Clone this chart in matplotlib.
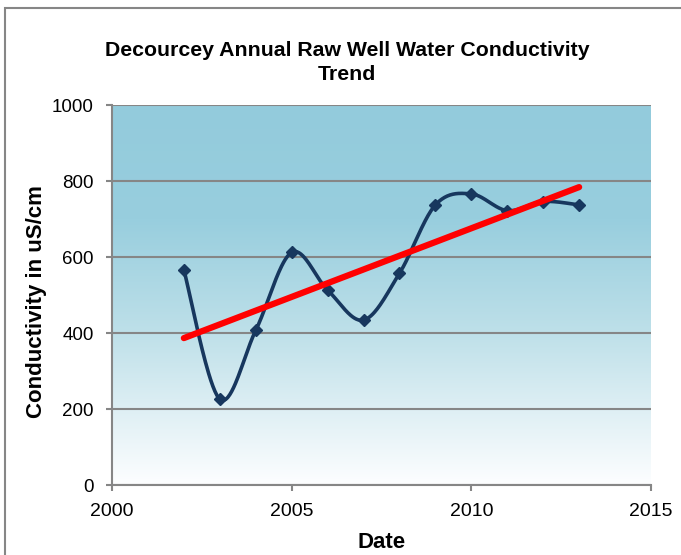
import numpy as np
import matplotlib.pyplot as plt
from matplotlib.colors import LinearSegmentedColormap
from matplotlib.patches import Rectangle

plt.rcParams['font.family'] = ['Liberation Sans', 'DejaVu Sans']

years = [2002, 2003, 2004, 2005, 2006, 2007, 2008, 2009, 2010, 2011, 2012, 2013]
conductivity = [566, 226, 407, 612, 513, 434, 557, 737, 766, 722, 746, 737]
x_ticks = [2000, 2005, 2010, 2015]
y_ticks = [0, 200, 400, 600, 800, 1000]


def excel_smooth(x, y, n=40):
    # Excel-style smoothed line: cubic Bezier with Catmull-Rom control points
    p = np.column_stack([x, y]).astype(float)
    pts = [p[0]]
    for i in range(len(p) - 1):
        p0 = p[i - 1] if i > 0 else p[i]
        p3 = p[i + 2] if i + 2 < len(p) else p[i + 1]
        c1 = p[i] + (p[i + 1] - p0) / 6
        c2 = p[i + 1] - (p3 - p[i]) / 6
        t = np.linspace(0, 1, n)[1:, None]
        seg = ((1 - t) ** 3 * p[i] + 3 * (1 - t) ** 2 * t * c1
               + 3 * (1 - t) * t ** 2 * c2 + t ** 3 * p[i + 1])
        pts.extend(seg)
    pts = np.array(pts)
    return pts[:, 0], pts[:, 1]


fig = plt.figure(figsize=(6.81, 5.55), dpi=100)
fig.patches.append(Rectangle((5 / 681, -0.1), 2, 1.1 - 8 / 555, transform=fig.transFigure,
                             fill=False, edgecolor='#868686', linewidth=1.5))
ax = fig.add_axes([112 / 681, 1 - 485 / 555, 539 / 681, 380 / 555])

# gradient background
grad = LinearSegmentedColormap.from_list('bg', [
    (0.0, (147 / 255, 203 / 255, 220 / 255)),
    (0.3, (152 / 255, 206 / 255, 222 / 255)),
    (0.6, (190 / 255, 224 / 255, 233 / 255)),
    (0.8, (222 / 255, 239 / 255, 244 / 255)),
    (1.0, (253 / 255, 254 / 255, 255 / 255)),
])
ax.imshow(np.linspace(0, 1, 256)[:, None], cmap=grad, aspect='auto',
          extent=[2000, 2015, 0, 1000], zorder=0)

sx, sy = excel_smooth(years, conductivity)
ax.plot(sx, sy, color='#17375E', linewidth=2.6, zorder=3)
ax.plot(years, conductivity, linestyle='none', marker='D', markersize=6.5,
        color='#17375E', zorder=4)

coef = np.polyfit(years, conductivity, 1)
ax.plot([years[0], years[-1]], np.polyval(coef, [years[0], years[-1]]),
        color='#FF0000', linewidth=4.5, solid_capstyle='round', zorder=5)

ax.set_xlim(2000, 2015)
ax.set_ylim(0, 1000)
ax.set_xticks(x_ticks)
ax.set_yticks(y_ticks)
ax.tick_params(color='#868686', width=1.5, length=4.3, direction='out')
ax.tick_params(axis='x', labelsize=14, pad=9)
ax.tick_params(axis='y', labelsize=13.5, pad=9)
ax.yaxis.grid(True, color='#868686', linewidth=1.5, zorder=1)
ax.set_axisbelow(False)
for side in ['top', 'right']:
    ax.spines[side].set_visible(False)
for side in ['left', 'bottom']:
    ax.spines[side].set_color('#868686')
    ax.spines[side].set_linewidth(1.5)

fig.text(347 / 681, 1 - 50 / 555, 'Decourcey Annual Raw Well Water Conductivity',
         ha='center', va='center', fontsize=15.3, fontweight='bold')
fig.text(347 / 681, 1 - 74 / 555, 'Trend',
         ha='center', va='center', fontsize=15.3, fontweight='bold')
fig.text(37 / 681, 1 - 302 / 555, 'Conductivity in uS/cm', rotation=90,
         ha='center', va='center', fontsize=16, fontweight='bold')
fig.text(382 / 681, 1 - 543 / 555, 'Date', ha='center', va='center',
         fontsize=16, fontweight='bold')

fig.savefig('out.png', dpi=100)
